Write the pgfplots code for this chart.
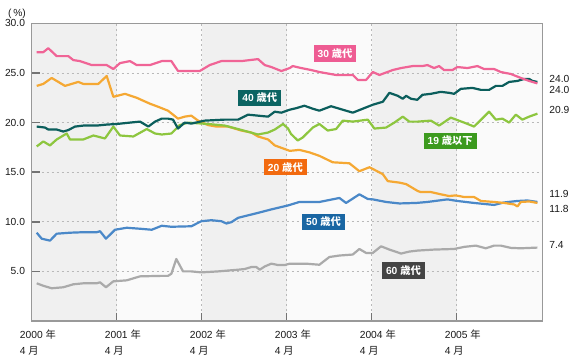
\documentclass[border=0pt]{standalone}
\usepackage{fontspec}
\setmainfont{Liberation Sans}
\newfontfamily\cjk{Noto Sans CJK JP}
\usepackage{pgfplots}
\pgfplotsset{compat=1.18}

\definecolor{cPink}{HTML}{F06496}
\definecolor{cPinkBox}{HTML}{EE5C93}
\definecolor{cTeal}{HTML}{0B5E5C}
\definecolor{cTealBox}{HTML}{0B6462}
\definecolor{cGreen}{HTML}{8DC63F}
\definecolor{cGreenBox}{HTML}{3C9A1E}
\definecolor{cOrange}{HTML}{F5A833}
\definecolor{cOrangeBox}{HTML}{F26A0F}
\definecolor{cBlue}{HTML}{4A88C8}
\definecolor{cBlueBox}{HTML}{1966A3}
\definecolor{cGray}{HTML}{AAAAAA}
\definecolor{cGrayBox}{HTML}{444444}
\definecolor{bandA}{HTML}{F0F0F0}
\definecolor{bandB}{HTML}{FAFAFA}
\definecolor{frameC}{HTML}{999999}

\begin{document}
\begin{tikzpicture}
\begin{axis}[
  set layers,
  scale only axis, width=510.6bp, height=297.6bp,
  xmin=0, xmax=72.1, ymin=0, ymax=30,
  clip=false,
  axis line style={draw=frameC, line width=1.5bp},
  tick pos=left, tick align=inside,
  major tick length=8bp,
  tick style={draw=gray!90!black, line width=1.5bp},
  xtick={0,12,24,36,48,60},
  xticklabels={{2000 {\cjk 年}\\4 {\cjk 月}},{2001 {\cjk 年}\\4 {\cjk 月}},{2002 {\cjk 年}\\4 {\cjk 月}},{2003 {\cjk 年}\\4 {\cjk 月}},{2004 {\cjk 年}\\4 {\cjk 月}},{2005 {\cjk 年}\\4 {\cjk 月}}},
  xticklabel style={align=left, anchor=north west, inner sep=0pt, xshift=-12bp, yshift=-8.5bp, font=\fontsize{10.3}{16}\selectfont, text=black!90},
  ytick={5,10,15,20,25,30},
  yticklabel style={anchor=east, inner sep=0pt, xshift=-6.5bp, font=\fontsize{10.3}{12}\selectfont, text=black!90,
    /pgf/number format/.cd, fixed, fixed zerofill, precision=1, assume math mode=true},
  grid=major,
  major grid style={draw=gray!55, dash pattern=on 2bp off 3bp, line width=0.8bp},
  every axis plot/.append style={line width=2.2bp, line join=round},
]
\begin{pgfonlayer}{axis background}
\fill[bandA] (axis cs:0,0) rectangle (axis cs:12,30);
\fill[bandB] (axis cs:12,0) rectangle (axis cs:24,30);
\fill[bandA] (axis cs:24,0) rectangle (axis cs:36,30);
\fill[bandB] (axis cs:36,0) rectangle (axis cs:48,30);
\fill[bandA] (axis cs:48,0) rectangle (axis cs:60,30);
\fill[bandB] (axis cs:60,0) rectangle (axis cs:72.1,30);
\end{pgfonlayer}

% 60s
\addplot[cGray, no marks] coordinates {(0.71,3.8)(1.64,3.55)(2.82,3.3)(4.46,3.4)(5.88,3.7)(7.29,3.8)(9.18,3.8)(9.65,3.9)(10.49,3.4)(11.53,4.0)(13.42,4.1)(15.30,4.5)(18.36,4.55)(19.25,4.55)(19.72,4.76)(20.42,6.25)(21.37,5.0)(22.54,5.0)(23.95,4.9)(26.31,5.0)(29.14,5.17)(30.08,5.24)(31.02,5.44)(31.72,5.44)(32.20,5.17)(32.91,5.5)(33.84,5.78)(34.79,5.64)(35.73,5.64)(36.44,5.78)(37.33,5.78)(38.74,5.78)(40.62,5.67)(42.03,6.45)(43.45,6.6)(45.34,6.7)(46.27,7.26)(47.22,6.86)(48.16,6.86)(49.33,7.53)(50.51,7.2)(52.16,6.8)(53.33,7.0)(54.52,7.1)(56.82,7.2)(59.65,7.26)(61.06,7.47)(62.71,7.6)(64.12,7.33)(65.30,7.6)(66.24,7.6)(67.66,7.37)(69.07,7.33)(71.41,7.4)};
% 50s
\addplot[cBlue, no marks] coordinates {(0.71,8.9)(1.41,8.3)(2.58,8.1)(3.53,8.8)(5.41,8.9)(7.29,8.95)(9.18,8.95)(9.65,9.05)(10.49,8.3)(11.77,9.2)(13.42,9.4)(15.30,9.3)(16.95,9.2)(18.36,9.6)(19.72,9.5)(22.54,9.55)(23.95,10.06)(25.37,10.16)(26.78,10.06)(27.49,9.83)(28.19,9.96)(29.14,10.4)(31.96,10.9)(33.84,11.25)(36.20,11.65)(37.80,12.0)(40.62,12.0)(42.03,12.2)(43.45,12.4)(44.39,11.9)(46.27,12.77)(47.46,12.3)(48.16,12.26)(50.04,12.0)(51.92,11.85)(54.3,11.9)(55.88,12.0)(58.70,12.26)(60.11,12.1)(62.47,11.9)(65.30,11.7)(66.71,11.95)(68.59,12.1)(70.0,12.15)(71.41,12.0)};
% 20s
\addplot[cOrange, no marks] coordinates {(0.71,23.7)(1.64,23.9)(2.82,24.5)(4.70,23.7)(6.58,24.1)(7.29,23.9)(9.41,23.9)(10.59,24.7)(11.53,22.6)(13.18,22.9)(14.83,22.5)(16.71,21.9)(17.84,21.6)(19.25,21.2)(20.66,20.4)(21.61,20.6)(22.54,20.7)(23.49,20.2)(24.90,19.75)(26.07,19.6)(27.73,19.6)(29.60,19.2)(31.02,19.0)(31.96,18.6)(33.38,18.3)(34.32,17.7)(36.44,17.15)(37.80,17.25)(39.21,17.0)(40.62,16.65)(42.51,16.0)(44.86,15.9)(46.27,15.1)(47.7,15.5)(49.58,14.8)(50.28,14.1)(51.92,13.95)(52.87,13.8)(54.52,13.1)(54.94,13.0)(56.36,13.0)(57.77,12.77)(58.94,12.6)(59.89,12.66)(61.06,12.5)(62.47,12.5)(63.42,12.1)(65.30,12.0)(66.71,11.9)(68.12,11.75)(68.59,11.55)(69.07,12.0)(70.24,12.05)(71.41,11.9)};
% 19 and under
\addplot[cGreen, no marks] coordinates {(0.71,17.6)(1.64,18.1)(2.58,17.7)(3.53,18.3)(4.94,18.9)(5.41,18.3)(7.29,18.3)(8.71,18.7)(10.35,18.4)(11.53,19.6)(12.47,18.7)(14.35,18.6)(16.24,19.35)(17.42,18.9)(18.36,18.8)(19.72,18.9)(20.90,19.75)(22.08,20.0)(24.90,19.86)(27.26,19.7)(29.14,19.35)(31.96,18.8)(33.38,19.0)(34.32,19.3)(35.49,19.86)(36.2,19.4)(36.62,18.85)(37.57,18.2)(38.28,18.5)(39.69,19.5)(40.62,19.86)(41.8,19.2)(42.98,19.35)(43.93,20.2)(45.34,20.1)(47.46,20.3)(48.39,19.4)(50.04,19.5)(51.21,20.0)(52.40,20.6)(53.33,20.1)(54.52,20.1)(56.36,20.2)(57.53,19.7)(59.18,20.5)(61.06,20.0)(62.47,19.6)(64.59,21.1)(65.54,20.3)(66.47,20.4)(67.42,20.0)(68.36,20.8)(69.29,20.3)(70.24,20.6)(71.41,20.9)};
% 40s
\addplot[cTeal, no marks] coordinates {(0.71,19.6)(1.88,19.5)(2.34,19.3)(3.53,19.3)(4.46,19.1)(5.17,19.25)(6.12,19.6)(7.29,19.7)(9.18,19.7)(10.59,19.8)(12.01,19.86)(13.88,20.0)(15.30,20.1)(16.47,19.6)(17.42,20.1)(18.36,20.4)(19.25,20.4)(19.96,20.3)(20.66,19.4)(21.61,20.0)(22.54,19.9)(24.44,20.2)(27.26,20.3)(29.14,20.3)(30.55,20.8)(31.96,20.7)(33.38,20.6)(34.32,21.1)(35.25,21.0)(36.44,21.3)(37.33,21.45)(38.50,21.7)(39.69,21.4)(40.62,21.2)(42.27,21.65)(43.45,21.4)(44.39,21.2)(45.34,21.0)(46.75,21.4)(48.16,21.8)(49.58,22.1)(50.51,23.0)(51.69,22.7)(52.40,22.4)(52.87,22.7)(53.57,22.4)(54.46,22.3)(55.17,22.8)(56.36,22.9)(57.77,23.1)(58.94,23.0)(59.65,22.9)(60.59,23.4)(62.23,23.5)(63.42,23.3)(64.59,23.3)(65.54,23.7)(66.47,23.7)(67.42,24.1)(68.59,24.2)(69.53,24.4)(70.24,24.4)(70.71,24.2)(71.41,24.1)};
% 30s
\addplot[cPink, no marks] coordinates {(0.71,27.1)(1.64,27.1)(2.34,27.5)(3.53,26.7)(5.17,26.7)(5.88,26.3)(6.82,26.2)(8.47,25.8)(10.59,25.8)(11.53,25.4)(12.47,26.0)(13.88,26.2)(14.83,25.8)(16.71,25.8)(18.36,26.2)(19.72,26.2)(20.66,25.2)(23.73,25.2)(25.14,25.8)(26.78,26.2)(29.60,26.2)(31.96,26.4)(32.91,25.8)(33.84,25.6)(35.25,25.2)(36.44,25.5)(36.86,25.7)(38.04,25.5)(39.45,25.3)(40.62,25.1)(42.98,24.8)(45.34,24.8)(46.05,24.3)(47.22,24.3)(48.16,25.1)(49.10,24.8)(50.99,25.3)(52.16,25.5)(53.81,25.7)(55.17,25.7)(55.88,25.8)(56.82,25.5)(57.53,25.7)(58.23,25.3)(59.41,25.3)(60.11,25.6)(61.53,25.5)(62.94,25.7)(63.88,25.4)(65.30,25.4)(66.24,25.1)(67.66,24.9)(69.07,24.5)(70.24,24.2)(71.41,23.95)};

% series labels
\tikzset{lbl/.style={text=white, font=\fontsize{10.3}{12}\selectfont\bfseries, inner xsep=4bp, inner ysep=0pt, minimum height=16.5bp}}
\node[lbl, fill=cPinkBox]   at (axis cs:42.84,26.95) {30 {\cjk 歳代}};
\node[lbl, fill=cTealBox]   at (axis cs:32.2,22.5)   {40 {\cjk 歳代}};
\node[lbl, fill=cGreenBox]  at (axis cs:59.08,18.14) {19 {\cjk 歳以下}};
\node[lbl, fill=cOrangeBox] at (axis cs:35.82,15.5)  {20 {\cjk 歳代}};
\node[lbl, fill=cBlueBox]   at (axis cs:41.21,9.98)  {50 {\cjk 歳代}};
\node[lbl, fill=cGrayBox]   at (axis cs:52.49,5.07)  {60 {\cjk 歳代}};

% end values
\tikzset{endv/.style={anchor=west, inner sep=0pt, font=\fontsize{10.3}{12}\selectfont, text=black!90}}
\node[endv] at (axis cs:73.07,24.42) {24.0};
\node[endv] at (axis cs:73.07,23.3)  {24.0};
\node[endv] at (axis cs:73.07,21.28) {20.9};
\node[endv] at (axis cs:73.07,12.77) {11.9};
\node[endv] at (axis cs:73.07,11.32) {11.8};
\node[endv] at (axis cs:73.07,7.67)  {7.4};
\end{axis}
\node[font=\fontsize{10.3}{12}\selectfont, text=black!90] at ([xshift=-14.7bp, yshift=9.5bp]current axis.north west) {(\,\%)};
\pgfresetboundingbox
\path (current axis.south west) ++(-31.7bp,-42bp) rectangle ++(580bp,363bp);
\end{tikzpicture}
\end{document}
